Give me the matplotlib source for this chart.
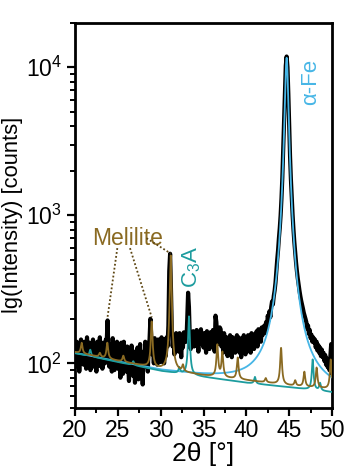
import numpy as np
import matplotlib
matplotlib.use('Agg')
import matplotlib.pyplot as plt
from matplotlib.ticker import MultipleLocator, LogLocator

plt.rcParams['font.family'] = ['Liberation Sans', 'DejaVu Sans']
plt.rcParams['mathtext.fontset'] = 'custom'
plt.rcParams['mathtext.rm'] = 'Liberation Sans'
plt.rcParams['mathtext.it'] = 'Liberation Sans:italic'

# measured pattern, 0.1 deg steps from 20.0 to 50.0 (counts)
measured = [
    120, 95, 140, 100, 130, 88, 125, 145, 105, 135,      # 20
    98, 140, 110, 92, 150, 118, 100, 138, 90, 128,       # 21
    112, 145, 95, 132, 102, 88, 140, 120, 96, 150,       # 22
    105, 130, 92, 138, 110, 100, 145, 140, 195, 120,     # 23
    95, 135, 108, 88, 148, 115, 90, 130, 100, 140,       # 24
    92, 125, 105, 80, 138, 112, 85, 140, 98, 118,        # 25
    88, 130, 100, 76, 125, 95, 132, 110, 82, 120,        # 26
    74, 115, 90, 128, 78, 108, 135, 85, 112, 72,         # 27
    120, 95, 140, 100, 125, 88, 135, 145, 200, 150,      # 28
    115, 140, 100, 148, 110, 135, 98, 145, 105, 138,     # 29
    102, 150, 118, 135, 100, 145, 112, 150, 130, 180,    # 30
    420, 550, 320, 170, 130, 150, 115, 140, 160, 125,    # 31
    148, 120, 160, 135, 110, 150, 128, 162, 140, 155,    # 32
    140, 200, 300, 240, 150, 125, 160, 140, 165, 130,    # 33
    155, 132, 168, 145, 120, 158, 140, 170, 135, 150,    # 34
    128, 160, 140, 118, 165, 138, 150, 125, 162, 145,    # 35
    130, 168, 140, 120, 210, 190, 150, 135, 160, 175,    # 36
    170, 130, 155, 118, 160, 140, 125, 150, 112, 145,    # 37
    120, 155, 135, 110, 150, 128, 145, 118, 140, 155,    # 38
    125, 150, 118, 140, 110, 148, 122, 155, 130, 115,    # 39
    142, 120, 155, 128, 150, 118, 160, 135, 148, 125,    # 40
    158, 138, 165, 130, 170, 150, 162, 140, 175, 155,    # 41
    168, 180, 160, 190, 175, 210, 195, 225, 205, 240,    # 42
    262, 250, 285, 310, 350, 420, 500, 580, 700, 820,    # 43
    1000, 1300, 1800, 2800, 4300, 7000, 10200, 11800, 10000, 6600,  # 44
    4000, 2500, 1750, 1300, 1000, 800, 660, 560, 480, 420,  # 45
    375, 340, 310, 285, 265, 250, 235, 220, 210, 200,    # 46
    190, 172, 180, 158, 168, 148, 156, 140, 150, 138,    # 47
    145, 128, 140, 122, 133, 118, 128, 112, 124, 110,    # 48
    118, 104, 114, 98, 108, 94, 102, 90, 110, 135,       # 49
    86,                                                  # 50
]

# smooth background under the calculated patterns
bg_pos = [20, 25, 30, 35, 40, 45, 50]
bg_melilite = [119, 104, 91, 83, 77, 71, 67]
bg_c3a = [117, 102, 89, 81, 74, 69, 64]

# calculated reflections: position (deg), amplitude above background (counts)
melilite_pos = [20.78, 22.9, 23.77, 25.64, 28.95, 31.17, 32.6, 36.61, 37.2, 38.99,
                42.26, 44.05, 45.7, 46.77, 48.2, 49.85]
melilite_amp = [21, 7, 30, 10, 97, 446, 9, 52, 38, 31, 5, 55, 6, 18, 25, 39]
c3a_pos = [21.78, 26.8, 32.18, 33.3, 41.0, 47.74, 48.6]
c3a_amp = [12, 6, 8, 124, 8, 40, 8]
fe_pos = [44.7]
fe_amp = [11500]

tt = np.linspace(20, 50, 3001)
tt_meas = np.linspace(20, 50, len(measured))


def pattern(pos, amp, width, bg):
    y = np.interp(tt, bg_pos, bg).astype(float)
    for p, a in zip(pos, amp):
        y += a / (1 + ((tt - p) / width) ** 2)
    return y


y_mel = pattern(melilite_pos, melilite_amp, 0.11, bg_melilite)
y_c3a = pattern(c3a_pos, c3a_amp, 0.11, bg_c3a)
y_fe = pattern(fe_pos, fe_amp, 0.2, bg_c3a)

col_mel = '#8a6a22'
col_c3a = '#1c9c9e'
col_fe = '#47b6e6'

fig = plt.figure(figsize=(3.45, 4.70), dpi=100)
ax = fig.add_axes([0.2174, 0.132, 0.745, 0.820])

ax.plot(tt_meas, measured, color='black', lw=3.0, zorder=2)
ax.plot(tt, y_fe, color=col_fe, lw=1.3, zorder=3)
ax.plot(tt, y_c3a, color=col_c3a, lw=1.3, zorder=4)
ax.plot(tt, y_mel, color=col_mel, lw=1.3, zorder=5)

ax.set_yscale('log')
ax.set_xlim(20, 50)
ax.set_ylim(50, 20000)

# Melilite label with dotted leaders to its reflections
ax.text(22.0, 700, 'Melilite', color=col_mel, fontsize=16.5, va='center', ha='left')
leaders = [((24.94, 600), (23.77, 200)),
           ((26.42, 600), (28.95, 205)),
           ((28.35, 700), (31.15, 553))]
for (x0, y0), (x1, y1) in leaders:
    ax.plot([x0, x1], [y0, y1], color='#5e4714', lw=1.3, ls=(0, (1, 1.2)), zorder=6)

ax.text(33.6, 450, 'C$_3$A', color=col_c3a, fontsize=16, rotation=90,
        ha='center', va='center')
ax.text(47.55, 7900, '\u03b1-Fe', color=col_fe, fontsize=16, rotation=90,
        ha='center', va='center')

ax.xaxis.set_major_locator(MultipleLocator(5))
ax.xaxis.set_minor_locator(MultipleLocator(2.5))
ax.yaxis.set_major_locator(LogLocator(base=10, numticks=10))
ax.yaxis.set_minor_locator(LogLocator(base=10, subs=np.arange(2, 10), numticks=10))
ax.tick_params(which='major', direction='out', length=6, width=1.6, labelsize=16.5,
               top=False, right=False)
ax.tick_params(which='minor', direction='out', length=3.5, width=1.4,
               top=False, right=False)
ax.tick_params(axis='x', pad=2)
for s in ax.spines.values():
    s.set_linewidth(2)

ax.set_xlabel('2\u03b8 [\u00b0]', fontsize=19, labelpad=0)
ax.set_ylabel('lg(Intensity) [counts]', fontsize=15.8, labelpad=2)

fig.savefig('out.png', dpi=100)
